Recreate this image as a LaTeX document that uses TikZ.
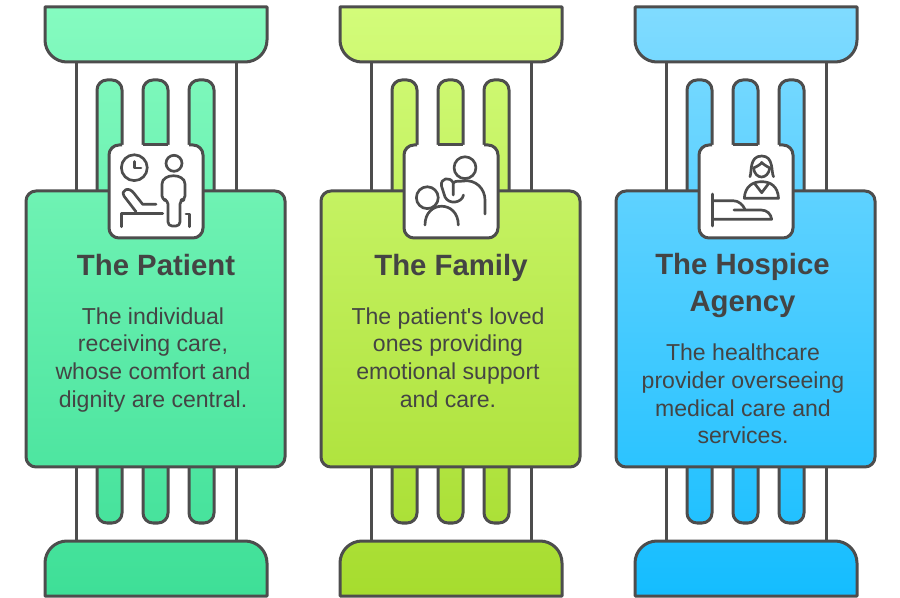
\documentclass[tikz,border=0pt]{standalone}
\usepackage{fontspec}
\setmainfont{Liberation Sans}
\usetikzlibrary{positioning}

\definecolor{linegray}{HTML}{4D4D4D}
\definecolor{textgray}{HTML}{444444}
\definecolor{patienttop}{HTML}{85FBC0}
\definecolor{patientbot}{HTML}{3EDF97}
\definecolor{familytop}{HTML}{D3FC7A}
\definecolor{familybot}{HTML}{A6DC2E}
\definecolor{hospicetop}{HTML}{80DBFF}
\definecolor{hospicebot}{HTML}{14BDFF}

\tikzset{
    outline/.style={draw=linegray,line width=2.25pt,line join=round},
    glyph/.style={draw=linegray,line width=2pt,line cap=round,line join=round},
    pillarfill/.style={path picture={\shade[top color=\ctop,bottom color=\cbot] (-50,7) rectangle (950,597);}},
    iconbox/.style={fill=white,rounded corners=7.5pt,minimum width=70.5pt,minimum height=70pt,inner sep=0pt},
    titletext/.style={text=textgray,font=\fontsize{22}{27.7}\selectfont\bfseries,align=center,execute at begin node=\strut,execute at end node=\strut},
    bodytext/.style={text=textgray,font=\fontsize{17.3}{20.7}\selectfont,align=center,execute at begin node=\strut,execute at end node=\strut},
}

\begin{document}
\begin{tikzpicture}[x=0.75pt,y=-0.75pt]
\useasboundingbox (0,0) rectangle (900,598);

\foreach \i/\off/\ctop/\cbot/\titlestr/\titlex/\titley/\bodystr/\bodyy in {
    1/0/patienttop/patientbot/{The Patient}/156/268/{The individual\\receiving care,\\whose comfort and\\dignity are central.}/361.5,
    2/295/familytop/familybot/{The Family}/156/268/{The patient\textquotesingle s loved\\ones providing\\emotional support\\and care.}/361.5,
    3/590/hospicetop/hospicebot/{The Hospice\\Agency}/152.5/288/{The healthcare\\provider overseeing\\medical care and\\services.}/398} {
\begin{scope}[shift={(\off,0)}]
    % column sides
    \draw[outline] (76,62) -- (76,191) (236,62) -- (236,191);
    \draw[outline] (76,467) -- (76,541) (236,467) -- (236,541);
    % flutes
    \foreach \sx in {97,143,189} {
        \draw[outline,pillarfill,rounded corners=7.5pt] (\sx,205) -- (\sx,80) -- (\sx+25,80) -- (\sx+25,205) -- cycle;
        \draw[outline,pillarfill,rounded corners=7.5pt] (\sx,450) -- (\sx,523) -- (\sx+25,523) -- (\sx+25,450) -- cycle;
    }
    % caps
    \draw[outline,pillarfill] (45,7) -- (267,7) -- (267,40) arc[start angle=0,end angle=-90,radius=16.5pt] -- (67,62) arc[start angle=270,end angle=180,radius=16.5pt] -- cycle;
    \draw[outline,pillarfill] (45,596) -- (267,596) -- (267,563) arc[start angle=0,end angle=90,radius=16.5pt] -- (67,541) arc[start angle=90,end angle=180,radius=16.5pt] -- cycle;
    % main box
    \draw[outline,pillarfill,rounded corners=7.5pt] (26,191) rectangle (285,467);
    % icon box
    \node[iconbox] (icon\i) at (156,191.5) {};
    \draw[outline,rounded corners=7.5pt] (122,145) -- (109,145) -- (109,238) -- (203,238) -- (203,145) -- (189,145);
    \draw[outline] (143,145) -- (168,145);
    % texts
    \node[titletext] (title\i) at (\titlex,\titley) {\titlestr};
    \node[bodytext] (body\i) at (153,\bodyy) {\bodystr};
\end{scope}
}

% patient icon
\draw[glyph] (134.3,167.7) circle (9.7pt);
\draw[glyph] (134.5,161.5) -- (134.5,168) -- (141,168);
\draw[glyph] (174,163.3) circle (6pt);
\draw[glyph,rounded corners=3pt] (168,200) -- (162,200) -- (162,188) .. controls (162,173) and (185,173) .. (185,188) -- (185,200) -- (180,200) -- (180,226) -- (168,226) -- cycle;
\draw[glyph] (156,204.3) -- (142.7,204.3) -- (134,193.3) .. controls (129,186) and (120,190) .. (124.3,196.5) -- (136,211.7);
\draw[glyph] (162.7,213.3) -- (121.7,213.3) -- (121.7,226.7);
\draw[glyph] (186,214) -- (189.3,214) -- (189.3,226.7);

% family icon
\draw[glyph] (465,167.7) circle (8.2pt);
\draw[glyph] (463,181) .. controls (476,179) and (485,189) .. (485,200) -- (485,214);
\draw[glyph] (463.5,195) .. controls (462,203) and (449,205) .. (445,197) -- (441.5,186) .. controls (440,178) and (450,176) .. (453.3,183) -- (453.3,195);
\draw[glyph] (453.3,183) .. controls (456,180) and (459,182) .. (463,181);
\draw[glyph] (427.3,197.7) circle (8.2pt);
\draw[glyph] (425,225) .. controls (425,200) and (458.3,200) .. (458.3,225);

% hospice icon
\draw[glyph] (750,176.7) .. controls (752,172) and (749,156) .. (761.7,156) .. controls (774,156) and (771,172) .. (773.5,176.7);
\draw[glyph] (753.5,168) .. controls (755,180) and (768,180) .. (769.8,168);
\draw[glyph] (753.5,168) .. controls (758,166) and (761,164) .. (761.7,162.5) .. controls (763,164) and (766,166) .. (769.8,168);
\draw[glyph] (744.3,198.3) .. controls (745,186) and (753,181.7) .. (761.7,181.7) .. controls (770,181.7) and (778,186) .. (778.5,198.3) -- cycle;
\draw[glyph] (755,184) -- (761.7,192.7) -- (768.3,184);
\draw[glyph] (712.7,194) -- (712.7,226);
\draw[glyph] (712.7,200.7) -- (733,200.7) .. controls (739,200.7) and (743,205) .. (745,209.5);
\draw[glyph] (734,210) -- (761,210) .. controls (767,210) and (771,214) .. (771.7,219.3) -- (712.7,219.3);
\end{tikzpicture}
\end{document}
